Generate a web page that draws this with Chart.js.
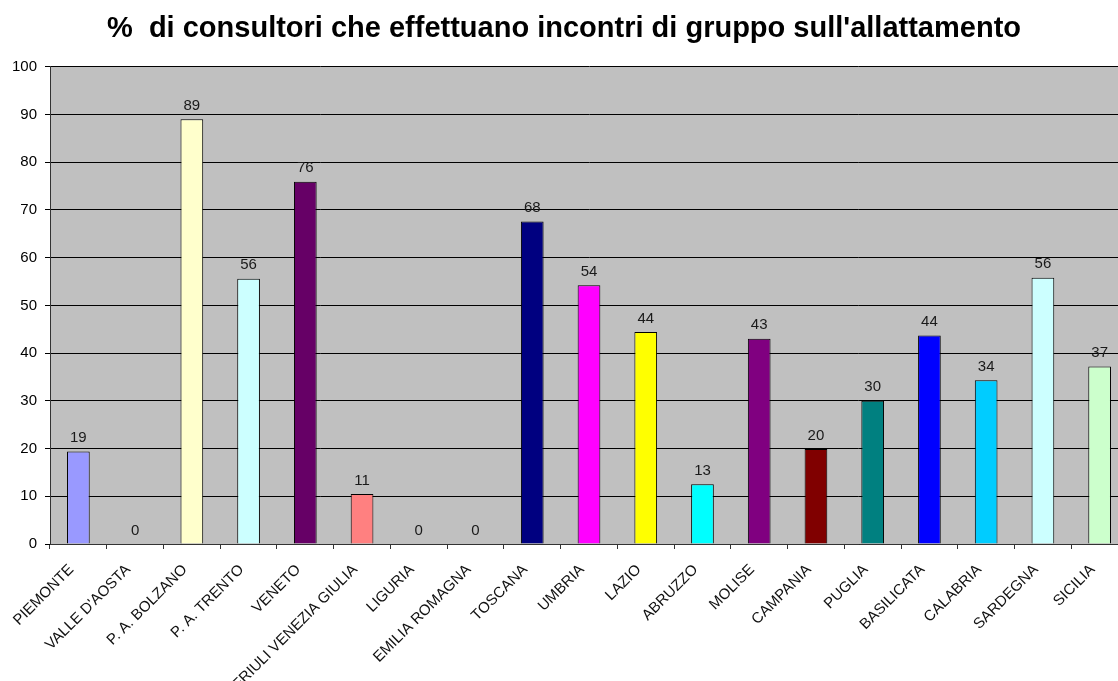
<!DOCTYPE html>
<html>
<head>
<meta charset="utf-8">
<script src="https://cdn.jsdelivr.net/npm/chart.js@4/dist/chart.umd.min.js"></script>
<style>
  html, body { margin: 0; padding: 0; background: #fff; overflow: hidden; }
  #grafico { display: block; }
</style>
</head>
<body>
<canvas id="grafico" width="1135" height="681"></canvas>
<script>
// ===== DATI =====
const regioni = [
  "PIEMONTE", "VALLE D'AOSTA", "P. A. BOLZANO", "P. A. TRENTO", "VENETO",
  "FRIULI VENEZIA GIULIA", "LIGURIA", "EMILIA ROMAGNA", "TOSCANA", "UMBRIA",
  "LAZIO", "ABRUZZO", "MOLISE", "CAMPANIA", "PUGLIA", "BASILICATA",
  "CALABRIA", "SARDEGNA", "SICILIA"
];
const percentuali = [
  19.4, 0, 89.0, 55.6, 75.9,
  10.5, 0, 0, 67.6, 54.2,
  44.4, 12.5, 43.0, 19.9, 30.0, 43.7,
  34.3, 55.8, 37.2
];
const colori = [
  "#9999FF", "#9999FF", "#FFFFCC", "#CCFFFF", "#660066",
  "#FF8080", "#C0C0C0", "#C0C0C0", "#000080", "#FF00FF",
  "#FFFF00", "#00FFFF", "#800080", "#800000", "#008080", "#0000FF",
  "#00CCFF", "#CCFFFF", "#CCFFCC"
];
const tickY = [0, 10, 20, 30, 40, 50, 60, 70, 80, 90, 100];
const titolo = "%  di consultori che effettuano incontri di gruppo sull'allattamento";

const FONT = "'Liberation Sans', Arial, sans-serif";

// ===== PLUGIN: sfondo grigio dell'area del grafico =====
const sfondoArea = {
  id: "sfondoArea",
  beforeDraw(chart) {
    const { ctx, chartArea: a } = chart;
    ctx.save();
    ctx.fillStyle = "#C0C0C0";
    ctx.fillRect(a.left, a.top, a.right - a.left, a.bottom - a.top);
    ctx.restore();
  }
};

// ===== PLUGIN: etichette sopra le barre =====
const etichette = {
  id: "etichette",
  afterDatasetsDraw(chart) {
    const ctx = chart.ctx;
    const meta = chart.getDatasetMeta(0);
    ctx.save();
    ctx.font = "15px " + FONT;
    ctx.fillStyle = "#1a1a1a";
    ctx.textAlign = "center";
    ctx.textBaseline = "bottom";
    meta.data.forEach((bar, i) => {
      ctx.fillText(String(Math.round(percentuali[i])), bar.x, bar.y - 6);
    });
    ctx.restore();
  }
};

const ctx = document.getElementById("grafico").getContext("2d");
new Chart(ctx, {
  type: "bar",
  data: {
    labels: regioni,
    datasets: [{
      data: percentuali,
      backgroundColor: colori,
      borderColor: "#000",
      borderWidth: 1,
      barPercentage: 0.4,
      categoryPercentage: 1
    }]
  },
  options: {
    responsive: false,
    animation: false,
    layout: { padding: { left: 0, right: 7, top: 0, bottom: 0 } },
    plugins: {
      legend: { display: false },
      tooltip: { enabled: false },
      title: {
        display: true,
        text: titolo,
        color: "#000",
        font: { family: FONT, size: 29, weight: "bold" },
        padding: { top: 12, bottom: 20 }
      }
    },
    scales: {
      x: {
        offset: true,
        grid: {
          offset: true,
          drawOnChartArea: false,
          drawTicks: true,
          tickLength: 5,
          color: "#333"
        },
        border: { color: "#333", width: 1 },
        ticks: {
          color: "#111",
          font: { family: FONT, size: 15 },
          autoSkip: false,
          minRotation: 45,
          maxRotation: 45,
          padding: 12,
          labelOffset: -7
        },
        afterFit(scale) { scale.height = 137; }
      },
      y: {
        min: 0,
        max: 100,
        afterBuildTicks(scale) { scale.ticks = tickY.map(v => ({ value: v })); },
        grid: { color: "#000", tickLength: 5, lineWidth: 1 },
        border: { color: "#333", width: 1 },
        ticks: {
          color: "#000",
          padding: 8,
          font: { family: FONT, size: 15 }
        },
        afterFit(scale) { scale.width = 50; }
      }
    }
  },
  plugins: [sfondoArea, etichette]
});
</script>
</body>
</html>
